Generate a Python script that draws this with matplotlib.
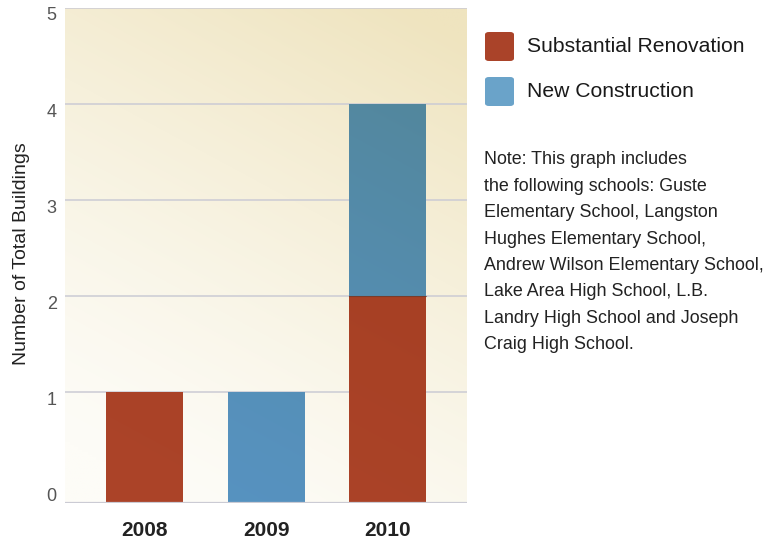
"""
Building count by year - stacked bars on a warm gradient panel
"""

import numpy as np
import matplotlib.pyplot as plt
from matplotlib.patches import FancyBboxPatch
import matplotlib.colors as mcolors

# Data
years = ['2008', '2009', '2010']
renovation = [1, 0, 2]
new_construction = [0, 1, 2]
series_names = ['Substantial Renovation', 'New Construction']
y_ticks = [0, 1, 2, 3, 4, 5]
note_lines = [
    'Note: This graph includes',
    'the following schools: Guste',
    'Elementary School, Langston',
    'Hughes Elementary School,',
    'Andrew Wilson Elementary School,',
    'Lake Area High School, L.B.',
    'Landry High School and Joseph',
    'Craig High School.',
]

# Style
W, H = 782, 541
DPI = 100
RED = '#aa4329'
BLUE = '#5692c4'
LEGEND_BLUE = '#6aa3c9'
BG_LIGHT = np.array(mcolors.to_rgb('#fdfcf7'))
BG_DARK = np.array(mcolors.to_rgb('#efe4bf'))
GRID = '#cbcbd4'
TEXT = '#555555'
FONT = ['Liberation Sans', 'DejaVu Sans']
OUTPUT_FILE = 'out.png'


def px(x, y):
    """pixel position (top-left origin) -> figure fraction"""
    return x / W, 1 - y / H


def gradient(n=200):
    xs = np.linspace(0, 1, n)
    ys = np.linspace(0, 1, n)
    gx, gy = np.meshgrid(xs, ys)
    t = np.clip(0.8 * gy + 0.35 * gx - 0.1, 0, 1)  # 1 = top-right
    t = t ** 1.3
    return BG_LIGHT[None, None, :] * (1 - t[..., None]) + BG_DARK[None, None, :] * t[..., None]


def main():
    plt.rcParams['font.family'] = FONT
    fig = plt.figure(figsize=(W / DPI, H / DPI), dpi=DPI)
    fig.patch.set_facecolor('white')

    left, right, top, bottom = 65, 467, 7.5, 503
    ax = fig.add_axes([left / W, 1 - bottom / H, (right - left) / W, (bottom - top) / H])
    ax.set_facecolor('none')

    x = np.arange(len(years))
    xlim = (-0.654, 2.654)
    ylim = (-0.161, 5)  # bars rise from the panel floor, a little below 0
    ax.set_xlim(*xlim)
    ax.set_ylim(*ylim)
    base = ylim[0]

    grad = gradient()
    ax.imshow(grad, extent=[*xlim, *ylim], origin='lower', aspect='auto', zorder=0,
              interpolation='bilinear')

    # grid lines (the lowest one is the panel floor)
    for t in y_ticks[1:]:
        ax.axhline(t, color=GRID, lw=1.1, zorder=0.5)
    ax.axhline(base, color=GRID, lw=1.6, zorder=2)

    # bars: colour multiplied with the panel gradient
    width = 0.63
    r = np.array(renovation, dtype=float)
    n = np.array(new_construction, dtype=float)
    r_bottom = np.full_like(r, base)
    r_height = np.where(r > 0, r - base, 0)
    n_bottom = np.where(r > 0, r, base)
    n_height = np.where(n > 0, r + n - n_bottom, 0)
    bars_r = ax.bar(x, r_height, width, bottom=r_bottom, color=RED, linewidth=0, zorder=1)
    bars_b = ax.bar(x, n_height, width, bottom=n_bottom, color=BLUE, linewidth=0, zorder=1)
    for bars, col in ((bars_r, RED), (bars_b, BLUE)):
        rgb = np.array(mcolors.to_rgb(col))
        for b in bars:
            if b.get_height() == 0:
                continue
            b.set_facecolor('none')
            im = ax.imshow(grad * rgb[None, None, :] / 0.985, extent=[*xlim, *ylim],
                           origin='lower', aspect='auto', zorder=1.5,
                           interpolation='bilinear')
            im.set_clip_path(b)

    # thin dark seam where the stacked segments meet
    for xi, ri, ni in zip(x, renovation, new_construction):
        if ri > 0 and ni > 0:
            ax.plot([xi - width / 2, xi + width / 2], [ri, ri], color='#5a3a30',
                    lw=0.8, alpha=0.6, zorder=1.8)

    for s in ax.spines.values():
        s.set_visible(False)
    ax.tick_params(length=0)
    ax.set_yticks(y_ticks)
    ax.set_yticklabels([str(t) for t in y_ticks], fontsize=13, color=TEXT)
    for lab in ax.get_yticklabels():
        lab.set_va('top')
    ax.tick_params(axis='y', pad=6)
    ax.set_xticks(x)
    ax.set_xticklabels(years, fontsize=15, fontweight='bold', color='#222222')
    ax.tick_params(axis='x', pad=13)

    fig.text(*px(22, 254), 'Number of Total Buildings', rotation=90, ha='center',
             va='center', fontsize=14, color='#222222')

    # legend
    for i, (name, col) in enumerate(zip(series_names, [RED, LEGEND_BLUE])):
        y0 = 32 + i * 45
        x0, y1 = px(485, y0 + 29)
        w, h = 29 / W, 29 / H
        box = FancyBboxPatch((x0, y1), w, h, boxstyle='round,pad=0,rounding_size=0.005',
                             transform=fig.transFigure, facecolor=col, edgecolor='none')
        fig.patches.append(box)
        fig.text(*px(527, y0 + 14.5), name, ha='left', va='center', fontsize=15.2,
                 color='#1a1a1a')

    # note
    for i, line in enumerate(note_lines):
        fig.text(*px(484, 160 + i * 26.4), line, ha='left', va='center', fontsize=12.9,
                 color='#222222')

    fig.savefig(OUTPUT_FILE, dpi=DPI, facecolor='white')


if __name__ == '__main__':
    main()
